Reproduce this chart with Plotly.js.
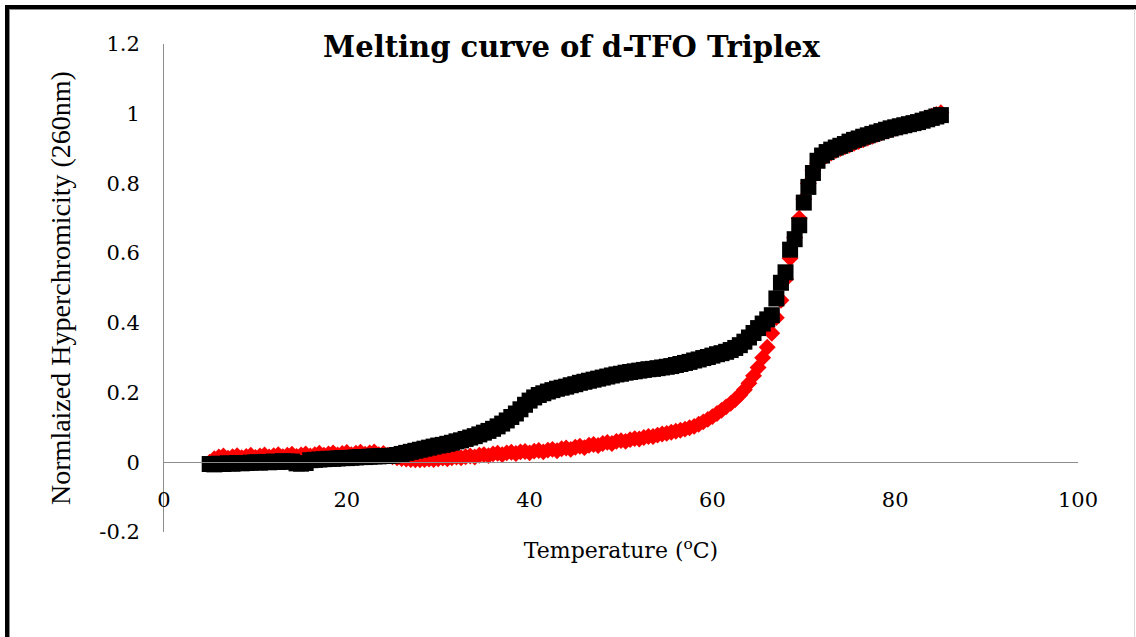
<!DOCTYPE html>
<html>
<head>
<meta charset="utf-8">
<script src="https://cdn.plot.ly/plotly-3.0.1.min.js"></script>
<style>
  html, body { margin: 0; padding: 0; background: #fff; }
  #wrap { position: relative; width: 1136px; height: 637px; overflow: hidden; }
  #chart { position: absolute; left: 0; top: 0; width: 1136px; height: 637px; }
  .fr { position: absolute; pointer-events: none; }
</style>
</head>
<body>
<div id="wrap">
  <div id="chart"></div>
  <div class="fr" style="left:5px; top:5px; width:1131px; height:4px; background:#000;"></div>
  <div class="fr" style="left:5px; top:5px; width:4px; height:632px; background:#000;"></div>
  <div class="fr" style="left:9px; top:9px; width:1127px; height:1px; background:#8a8a8a;"></div>
  <div class="fr" style="left:9px; top:9px; width:1px; height:628px; background:#8a8a8a;"></div>
  <div class="fr" style="left:1134px; top:9px; width:1px; height:628px; background:#d8d8d8;"></div>
</div>
<script>
const temperature = [
  5, 5.5, 6, 6.5, 7, 7.5, 8, 8.5, 9, 9.5,
  10, 10.5, 11, 11.5, 12, 12.5, 13, 13.5, 14, 14.5,
  15, 15.5, 16, 16.5, 17, 17.5, 18, 18.5, 19, 19.5,
  20, 20.5, 21, 21.5, 22, 22.5, 23, 23.5, 24, 24.5,
  25, 25.5, 26, 26.5, 27, 27.5, 28, 28.5, 29, 29.5,
  30, 30.5, 31, 31.5, 32, 32.5, 33, 33.5, 34, 34.5,
  35, 35.5, 36, 36.5, 37, 37.5, 38, 38.5, 39, 39.5,
  40, 40.5, 41, 41.5, 42, 42.5, 43, 43.5, 44, 44.5,
  45, 45.5, 46, 46.5, 47, 47.5, 48, 48.5, 49, 49.5,
  50, 50.5, 51, 51.5, 52, 52.5, 53, 53.5, 54, 54.5,
  55, 55.5, 56, 56.5, 57, 57.5, 58, 58.5, 59, 59.5,
  60, 60.5, 61, 61.5, 62, 62.5, 63, 63.5, 64, 64.5,
  65, 65.5, 66, 66.5, 67, 67.5, 68, 68.5, 69, 69.5,
  70, 70.5, 71, 71.5, 72, 72.5, 73, 73.5, 74, 74.5,
  75, 75.5, 76, 76.5, 77, 77.5, 78, 78.5, 79, 79.5,
  80, 80.5, 81, 81.5, 82, 82.5, 83, 83.5, 84, 84.5,
  85
];

// red diamonds
const redSeries = [
  0.000, 0.010, 0.015, 0.018, 0.012, 0.016, 0.019, 0.013, 0.017, 0.020,
  0.014, 0.018, 0.021, 0.015, 0.019, 0.022, 0.016, 0.020, 0.023, 0.017,
  0.021, 0.024, 0.018, 0.022, 0.026, 0.020, 0.024, 0.027, 0.021, 0.025,
  0.028, 0.022, 0.026, 0.029, 0.023, 0.027, 0.030, 0.022, 0.025, 0.020,
  0.016, 0.013, 0.011, 0.009, 0.008, 0.007, 0.007, 0.008, 0.009, 0.008,
  0.010, 0.012, 0.010, 0.013, 0.015, 0.013, 0.016, 0.018, 0.015, 0.020,
  0.022, 0.019, 0.024, 0.026, 0.022, 0.027, 0.029, 0.025, 0.030, 0.031,
  0.027, 0.032, 0.034, 0.030, 0.035, 0.037, 0.033, 0.039, 0.041, 0.037,
  0.043, 0.046, 0.042, 0.049, 0.051, 0.048, 0.054, 0.057, 0.054, 0.060,
  0.062, 0.060, 0.065, 0.068, 0.067, 0.071, 0.074, 0.074, 0.078, 0.081,
  0.083, 0.086, 0.089, 0.092, 0.095, 0.099, 0.103, 0.109, 0.116, 0.123,
  0.131, 0.140, 0.149, 0.159, 0.169, 0.180, 0.193, 0.208, 0.227, 0.248,
  0.272, 0.300, 0.330, 0.370, 0.415, 0.465, 0.525, 0.585, 0.645, 0.700,
  0.755, 0.800, 0.838, 0.858, 0.870, 0.880, 0.887, 0.894, 0.900, 0.905,
  0.910, 0.915, 0.920, 0.925, 0.930, 0.935, 0.940, 0.945, 0.950, 0.954,
  0.958, 0.962, 0.966, 0.970, 0.974, 0.978, 0.983, 0.988, 0.993, 0.998,
  1.003
];

// black squares
const blackSeries = [
  -0.005, -0.006, -0.004, -0.005, -0.003, -0.004, -0.002, -0.003, -0.002, -0.001,
  0.000, -0.001, 0.001, 0.000, 0.002, 0.001, 0.003, 0.002, 0.002, -0.003,
  -0.004, -0.002, 0.006, 0.007, 0.008, 0.009, 0.010, 0.010, 0.011, 0.012,
  0.012, 0.013, 0.014, 0.015, 0.015, 0.016, 0.017, 0.017, 0.018, 0.018,
  0.019, 0.021, 0.024, 0.027, 0.030, 0.033, 0.036, 0.039, 0.042, 0.045,
  0.048, 0.050, 0.053, 0.056, 0.060, 0.063, 0.067, 0.071, 0.075, 0.080,
  0.085, 0.090, 0.096, 0.103, 0.111, 0.120, 0.130, 0.140, 0.152, 0.165,
  0.177, 0.186, 0.193, 0.198, 0.203, 0.207, 0.211, 0.214, 0.217, 0.221,
  0.224, 0.228, 0.231, 0.234, 0.237, 0.240, 0.243, 0.246, 0.249, 0.252,
  0.254, 0.257, 0.259, 0.261, 0.263, 0.265, 0.267, 0.268, 0.270, 0.272,
  0.274, 0.276, 0.279, 0.282, 0.285, 0.288, 0.292, 0.295, 0.299, 0.302,
  0.306, 0.310, 0.313, 0.317, 0.322, 0.328, 0.336, 0.346, 0.358, 0.371,
  0.385, 0.398, 0.410, 0.422, 0.470, 0.515, 0.545, 0.610, 0.640, 0.680,
  0.745, 0.790, 0.830, 0.865, 0.880, 0.890, 0.897, 0.903, 0.908, 0.913,
  0.920, 0.925, 0.929, 0.934, 0.938, 0.942, 0.946, 0.950, 0.954, 0.958,
  0.961, 0.964, 0.967, 0.970, 0.973, 0.976, 0.980, 0.984, 0.988, 0.992,
  0.996
];

const xTicks = [0, 20, 40, 60, 80, 100];
const yTicks = [-0.2, 0, 0.2, 0.4, 0.6, 0.8, 1, 1.2];
const yTickLabels = ['-0.2', '0', '0.2', '0.4', '0.6', '0.8', '1', '1.2'];

const chartTitle = 'Melting curve of d-TFO Triplex';
const xTitle = 'Temperature (<sup>o</sup>C)';
const yTitle = 'Normlaized Hyperchromicity (260nm)';

const traces = [
  {
    x: temperature, y: redSeries, type: 'scatter', mode: 'markers',
    marker: { symbol: 'diamond', size: 13, color: '#ff0000', line: { width: 0 } },
    hoverinfo: 'skip', showlegend: false
  },
  {
    x: temperature, y: blackSeries, type: 'scatter', mode: 'markers',
    marker: { symbol: 'square', size: 16, color: '#000000', line: { width: 0 } },
    hoverinfo: 'skip', showlegend: false
  }
];

const plotTop = 44, plotBottom = 532;
const zeroFrac = (plotBottom - 462) / (plotBottom - plotTop);

const layout = {
  width: 1136, height: 637,
  margin: { l: 164, r: 58, t: plotTop, b: 637 - plotBottom, pad: 0 },
  paper_bgcolor: '#ffffff', plot_bgcolor: '#ffffff',
  title: {
    text: chartTitle,
    font: { family: 'DejaVu Serif', size: 29, color: '#000', weight: 'bold' },
    x: 0.503, xanchor: 'center', y: 0.927, yanchor: 'middle', xref: 'container', yref: 'container'
  },
  xaxis: {
    range: [0, 100], tickvals: xTicks, ticktext: xTicks.map(String),
    showgrid: false, zeroline: false, showline: true, linecolor: '#8c8c8c', linewidth: 1,
    ticks: '', anchor: 'free', position: zeroFrac,
    ticklabelstandoff: 19,
    tickfont: { family: 'DejaVu Serif', size: 21, color: '#000' },
    title: { text: xTitle, font: { family: 'DejaVu Serif', size: 22, color: '#000' }, standoff: 31 },
    fixedrange: true
  },
  yaxis: {
    range: [-0.2, 1.2], tickvals: yTicks, ticktext: yTickLabels,
    showgrid: false, zeroline: false, showline: true, linecolor: '#8c8c8c', linewidth: 1,
    ticks: '', ticklabelstandoff: 19,
    tickfont: { family: 'DejaVu Serif', size: 21, color: '#000' },
    title: { text: yTitle, font: { family: 'Liberation Serif', size: 28, color: '#000' }, standoff: 20 },
    fixedrange: true
  }
};

Plotly.newPlot('chart', traces, layout, { displayModeBar: false, staticPlot: true });
</script>
</body>
</html>
